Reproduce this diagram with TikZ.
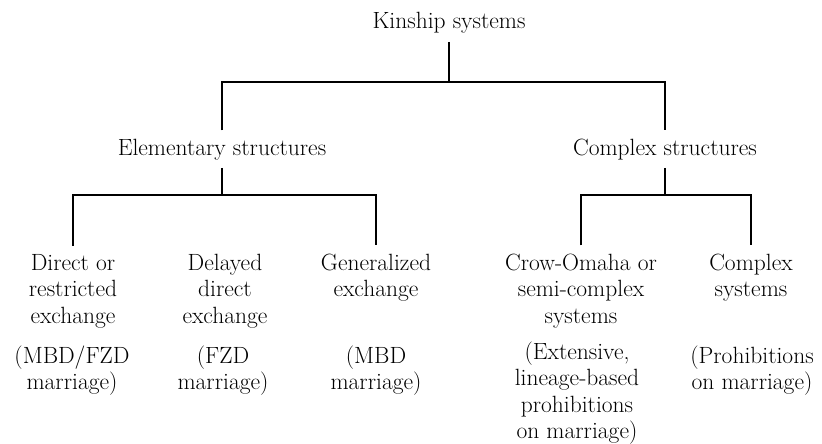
\documentclass[tikz,border=0pt]{standalone}
\usepackage{tikz}
\newcommand{\kinfont}{\fontsize{23.5pt}{26.5pt}\selectfont}

\begin{document}
\begin{tikzpicture}[
        x=1pt, y=-1pt,
        term/.style={align=center, anchor=base, inner xsep=0pt, inner ysep=8pt, font=\kinfont},
        note/.style={align=center, anchor=base, inner sep=0pt, font=\kinfont},
        link/.style={draw=black, line width=1.1pt}
    ]
    \useasboundingbox (0,0) rectangle (822,444);

    % Levels
    \node[term] (kin) at (449, 29) {Kinship systems};
    \node[term] (elem) at (222, 155) {Elementary structures};
    \node[term] (cplx) at (665, 155) {Complex structures};

    % Leaves (placed by the baseline of their last line)
    \node[term] (direct) at (73, 323) {Direct or\\ restricted\\ exchange};
    \node[term] (delayed) at (225, 323) {Delayed\\ direct\\ exchange};
    \node[term] (general) at (376, 296.5) {Generalized\\ exchange};
    \node[term] (crow) at (581, 323) {Crow-Omaha or\\ semi-complex\\ systems};
    \node[term] (compsys) at (751, 296.5) {Complex\\ systems};

    % Notes
    \node[note] (directnote) at (72, 389.5) {(MBD/FZD\\ marriage)};
    \node[note] (delayednote) at (223, 389.5) {(FZD\\ marriage)};
    \node[note] (generalnote) at (376, 389.5) {(MBD\\ marriage)};
    \node[note] (crownote) at (577, 438.5) {(Extensive,\\ lineage-based\\ prohibitions\\ on marriage)};
    \node[note] (compsysnote) at (752, 389.5) {(Prohibitions\\ on marriage)};

    % Joints
    \coordinate (kinjoin) at (449, 82);
    \coordinate (elemjoin) at (222, 195);
    \coordinate (cplxjoin) at (665, 195);

    % Branches
    \draw[link] (kin) -- (kinjoin);
    \draw[link] (elem) |- (kinjoin) -| (cplx);
    \draw[link] (elem) -- (elemjoin);
    \draw[link] (direct) |- (elemjoin) -| (general);
    \draw[link] (cplx) -- (cplxjoin);
    \draw[link] (crow) |- (cplxjoin) -| (compsys);

\end{tikzpicture}
\end{document}
